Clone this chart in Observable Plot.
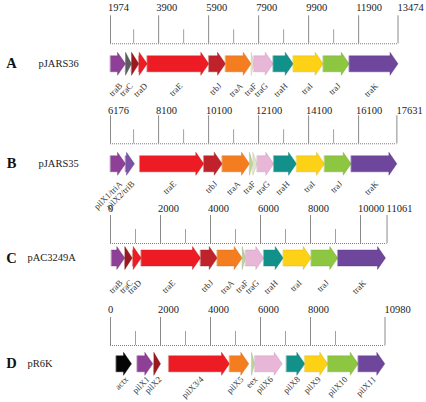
<!DOCTYPE html>
<html><head><meta charset="utf-8">
<script src="https://cdn.jsdelivr.net/npm/d3@7"></script>
<script src="https://cdn.jsdelivr.net/npm/@observablehq/plot@0.6"></script>
<style>body{margin:0;background:#fff}</style>
</head><body><div id="chart"></div>
<script>
// ---- data ----
const rowIds = ["A","B","C","D"];
const plasmids = ["pJARS36","pJARS35","pAC3249A","pR6K"];
const rowStart = [1974, 6176, 0, 0];
const rowEnd = [13474, 17631, 11061, 10980];

const majorA = [1974,3900,5900,7900,9900,11900,13474];
const minorA = [2900,4900,6900,8900,10900];
const majorB = [6176,8100,10100,12100,14100,16100,17631];
const minorB = [7100,9100,11100,13100,15100];
const majorC = [0,2000,4000,6000,8000,10000,11061];
const minorC = [1000,3000,5000,7000,9000];
const majorD = [0,2000,4000,6000,8000,10980];
const minorD = [1000,3000,5000,7000,9000];

// [gene, start, end, family]
const genesA = [
  ["traB",1974,2574,"purple"],["traC",2574,2814,"gray"],["",2814,3106,"darkred"],
  ["traD",3106,3442,"red"],["traE",3442,5906,"red"],["trbJ",5906,6574,"crimson"],
  ["traA",6574,7602,"orange"],["traF",7602,7706,"pale"],["traG",7706,8482,"pink"],
  ["traH",8482,9282,"teal"],["traI",9282,10482,"yellow"],["traJ",10482,11522,"green"],
  ["traK",11522,13474,"violetK"]];
const genesB = [
  ["pilX1/triA",6176,6776,"purple"],["pilX2/triB",6776,7136,"violet"],
  ["traE",7348,9908,"red"],["trbJ",9908,10644,"crimson"],["traA",10644,11736,"orange"],
  ["traF",11736,11868,"paleGreen"],["",11868,12044,"pale"],["traG",12044,12708,"pink"],
  ["traH",12708,13616,"teal"],["traI",13616,14736,"yellow"],["traJ",14736,15804,"green"],
  ["traK",15804,17631,"violetK"]];
const genesC = [
  ["traB",40,572,"purple"],["traC",572,868,"darkred"],["traD",892,1228,"red"],
  ["traE",1228,3600,"red"],["trbJ",3600,4268,"crimson"],["traA",4268,5268,"orange"],
  ["traF",5268,5400,"paleGreen"],["traG",5400,6132,"pink"],["traH",6132,6908,"teal"],
  ["traI",6908,8028,"yellow"],["traJ",8028,9092,"green"],["traK",9092,11000,"violetK"]];
const genesD = [
  ["actx",228,840,"black"],["pilX1",1068,1692,"purple"],["pilX2",1732,2000,"darkred"],
  ["pilX3/4",2332,4760,"red"],["pilX5",4760,5532,"orange"],["eex",5640,5760,"paleGreen"],
  ["pilX6",5772,6868,"pink"],["pilX8",7040,7772,"teal"],["pilX9",7772,8692,"yellow"],
  ["pilX10",8692,9908,"green"],["pilX11",9908,10972,"violetK"]];

// ---- styles / layout ----
const palette = {
  purple:"#8e3f96", violet:"#7b52a6", gray:"#5d5d5f", darkred:"#9a1a1f", red:"#ed1c24",
  crimson:"#c0222c", orange:"#f47d20", paleGreen:"#bcd59a", pale:"#e1e6c8", pink:"#e8b6d6",
  teal:"#12918b", yellow:"#fdd116", green:"#8dc640", violetK:"#6e469b", black:"#050505"
};
const layout = {
  A:{tickLab:7.5, base:43.3, mid:63.3, lab:84, nameDx:-72},
  B:{tickLab:110.5, base:143.3, mid:163.3, lab:182, nameDx:-72},
  C:{tickLab:208, base:243, mid:257.5, lab:281, nameDx:-83},
  D:{tickLab:309, base:345, mid:363.3, lab:377.5, nameDx:-83}
};
const headPx = 8, bodyHalf = 8, headHalf = 11.5, pxPerBp = 0.025;
const headBp = headPx / pxPerBp;
const serif = "'Liberation Serif','Times New Roman',serif";

const geneSets = [genesA, genesB, genesC, genesD];
const majors = [majorA, majorB, majorC, majorD];
const minors = [minorA, minorB, minorC, minorD];

const rows = rowIds.map((id,i) => ({id, name: plasmids[i], start: rowStart[i], end: rowEnd[i], ...layout[id]}));
const genes = [], poly = [], majT = [], minT = [];
rows.forEach((r,i) => {
  geneSets[i].forEach(([name,s,e,fam],j) => {
    const g = {row:r, name, s: s - r.start, e: e - r.start, fill: palette[fam], id: r.id + j};
    genes.push(g);
    const hs = Math.max(g.s, g.e - headBp), m = r.mid;
    [[g.s,m-bodyHalf],[hs,m-bodyHalf],[hs,m-headHalf],[g.e,m],[hs,m+headHalf],[hs,m+bodyHalf],[g.s,m+bodyHalf]]
      .forEach(([x,y]) => poly.push({id:g.id, x, y, fill:g.fill, stroke: d3.color(g.fill).darker(0.5).formatHex()}));
  });
  majors[i].forEach((v,k,a) => majT.push({row:r, v, x: v - r.start, last: k === a.length - 1}));
  minors[i].forEach(v => minT.push({row:r, v, x: v - r.start}));
});

const chart = Plot.plot({
  width: 426, height: 402, margin: 0,
  x: {domain:[0,12000], range:[110,410], axis:null},
  y: {domain:[0,402], range:[0,402], axis:null},
  color: {type:"identity"},
  style: {fontFamily: serif, background:"#fff"},
  marks: [
    Plot.ruleY(rows, {y:"base", x1:0, x2: d => d.end - d.start, stroke:"#808080", strokeWidth:1.1, strokeDasharray:"1,1"}),
    Plot.ruleX(majT, {x:"x", y1: d => d.row.base - 28, y2: d => d.row.base, stroke:"#8a8a8a", strokeWidth:1}),
    Plot.ruleX(minT, {x:"x", y1: d => d.row.base - 14, y2: d => d.row.base, stroke:"#a0a0a0", strokeWidth:1}),
    Plot.text(majT.filter(d => !d.last), {x:"x", y: d => d.row.tickLab, text: d => String(d.v), textAnchor:"start", dx:-2.5, fontSize:10.5, fill:"#222", fontFamily: serif}),
    Plot.text(majT.filter(d => d.last), {x:"x", y: d => d.row.tickLab, text: d => String(d.v), textAnchor:"start", dx:-0.5, fontSize:10.5, fill:"#222", fontFamily: serif}),
    Plot.line(poly, {x:"x", y:"y", z:"id", fill:"fill", stroke:"stroke", strokeWidth:0.4, curve:"linear-closed"}),
    Plot.text(genes.filter(g => g.name), {x: g => (g.s + g.e)/2, y: g => g.row.lab, text:"name", rotate:-45, textAnchor:"end", dx:3, fontSize:8.7, fill:"#333", fontFamily: serif}),
    Plot.text(rows, {x: () => 0, y:"mid", text:"id", dx:-99, fontSize:14.5, fontWeight:"bold", fill:"#111", fontFamily: serif}),
    Plot.text(rows.filter(r => r.nameDx === -72), {x: () => 0, y:"mid", text:"name", dx:-72, textAnchor:"start", fontSize:10.5, fill:"#222", fontFamily: serif}),
    Plot.text(rows.filter(r => r.nameDx === -83), {x: () => 0, y:"mid", text:"name", dx:-83, textAnchor:"start", fontSize:10.5, fill:"#222", fontFamily: serif})
  ]
});
document.getElementById("chart").appendChild(chart);
</script>
</body></html>
